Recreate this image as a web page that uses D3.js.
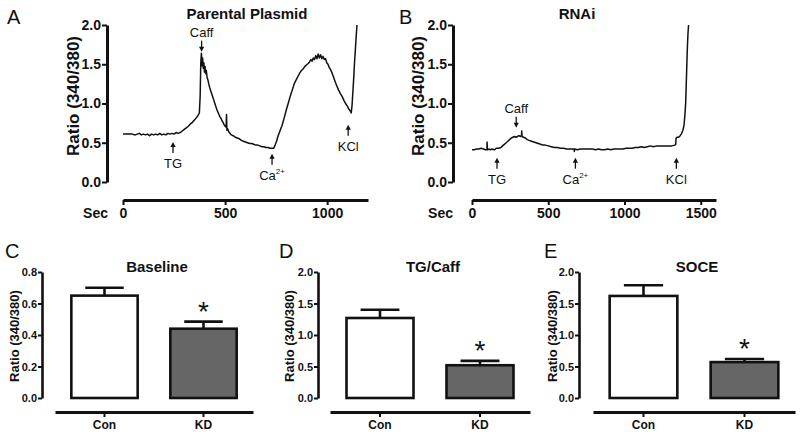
<!doctype html>
<html>
<head>
<meta charset="utf-8">
<script src="https://d3js.org/d3.v7.min.js"></script>
<style>
body { margin: 0; background: #fff; }
svg { font-family: "Liberation Sans", Arial, sans-serif; }
.trace { fill: none; stroke: #111; stroke-width: 1.5; stroke-linejoin: round; }
.axis path, .axis line { stroke: #111; }
.bar { stroke: #111; stroke-width: 2.6; }
.err { stroke: #111; stroke-width: 2.6; fill: none; }
</style>
</head>
<body>
<svg id="fig" width="800" height="435"></svg>
<script>
// ---- data ----
// panel A: parental plasmid trace, [seconds, ratio]
var traceA = [
  [0,0.61],[15,0.61],[30,0.61],[45,0.61],[60,0.60],[70,0.61],[80,0.62],[90,0.60],[100,0.61],[110,0.60],
  [120,0.61],[130,0.59],[140,0.61],[150,0.60],[160,0.61],[170,0.60],[180,0.62],[190,0.60],[200,0.61],[210,0.60],
  [220,0.62],[230,0.61],[240,0.62],[250,0.61],[260,0.63],[270,0.62],[280,0.63],[290,0.65],[300,0.67],[310,0.69],
  [320,0.71],[330,0.74],[340,0.76],[350,0.79],[360,0.82],[368,0.85],[374,0.88],[378,1.10],[381,1.52],[384,1.64],
  [387,1.48],[390,1.58],[393,1.45],[396,1.52],[399,1.40],[402,1.47],[405,1.38],[408,1.42],[412,1.33],[416,1.30],
  [420,1.25],[425,1.20],[430,1.16],[435,1.12],[440,1.08],[445,1.04],[450,1.00],[455,0.96],[460,0.92],[465,0.89],
  [470,0.86],[475,0.83],[480,0.81],[485,0.78],[490,0.76],[495,0.73],[500,0.71],[505,0.70],[507,0.86],[509,0.66],
  [512,0.68],[518,0.64],[524,0.62],[530,0.60],[540,0.59],[550,0.57],[560,0.56],[570,0.55],[580,0.53],[590,0.52],
  [600,0.51],[610,0.50],[620,0.49],[630,0.49],[640,0.48],[650,0.47],[660,0.47],[670,0.46],[680,0.45],[690,0.45],
  [700,0.44],[710,0.44],[720,0.43],[730,0.43],[738,0.43],[745,0.47],[752,0.52],[760,0.59],[770,0.66],[779,0.72],
  [790,0.82],[800,0.92],[809,1.00],[820,1.10],[830,1.18],[840,1.26],[850,1.31],[858,1.35],[866,1.39],[874,1.42],
  [882,1.44],[890,1.47],[898,1.49],[907,1.51],[914,1.53],[920,1.56],[926,1.54],[932,1.58],[938,1.56],[944,1.61],
  [950,1.57],[956,1.63],[962,1.58],[968,1.62],[974,1.57],[980,1.60],[986,1.56],[992,1.57],[998,1.52],[1004,1.50],
  [1010,1.46],[1017,1.43],[1024,1.39],[1032,1.33],[1040,1.27],[1048,1.22],[1056,1.17],[1064,1.13],[1073,1.09],[1082,1.04],
  [1090,1.00],[1098,0.97],[1106,0.93],[1112,0.91],[1118,0.88],[1122,0.98],[1126,1.15],[1130,1.32],[1134,1.52],[1138,1.68],
  [1142,1.85],[1146,2.0]
];
// panel B: RNAi trace, [seconds, ratio]
var traceB = [
  [0,0.41],[15,0.41],[30,0.42],[45,0.42],[60,0.43],[75,0.42],[90,0.41],[98,0.41],[99,0.51],[101,0.41],
  [110,0.42],[120,0.41],[130,0.42],[145,0.41],[160,0.43],[175,0.43],[190,0.44],[200,0.46],[212,0.48],[224,0.50],
  [235,0.52],[246,0.54],[258,0.56],[268,0.57],[278,0.58],[288,0.57],[298,0.58],[308,0.59],[318,0.58],[325,0.59],
  [326,0.65],[328,0.58],[338,0.57],[350,0.56],[362,0.54],[375,0.53],[390,0.52],[405,0.51],[420,0.50],[435,0.49],
  [450,0.48],[465,0.47],[480,0.47],[500,0.46],[520,0.45],[540,0.44],[560,0.44],[580,0.43],[600,0.43],[620,0.42],
  [640,0.42],[660,0.42],[670,0.42],[671,0.39],[673,0.42],[690,0.41],[710,0.42],[730,0.42],[750,0.42],[770,0.42],
  [790,0.42],[810,0.41],[830,0.42],[850,0.41],[870,0.41],[890,0.42],[910,0.41],[930,0.42],[950,0.42],[970,0.42],
  [990,0.42],[1010,0.43],[1030,0.43],[1050,0.43],[1070,0.44],[1090,0.44],[1110,0.45],[1130,0.44],[1150,0.45],[1170,0.46],
  [1190,0.45],[1210,0.46],[1230,0.46],[1250,0.46],[1270,0.46],[1290,0.46],[1310,0.46],[1330,0.47],[1336,0.48],[1338,0.56],
  [1345,0.57],[1355,0.57],[1365,0.59],[1375,0.62],[1383,0.66],[1390,0.72],[1396,0.85],[1401,1.00],[1405,1.25],[1408,1.45],
  [1412,1.70],[1416,1.88],[1420,2.0]
];
// arrow annotations: label, time, ratio at arrow tip, direction
var notesA = [
  {text: "TG", t: 245, r: 0.51, dir: "up"},
  {text: "Caff", t: 385, r: 1.66, dir: "down"},
  {text: "Ca", sup: "2+", t: 730, r: 0.36, dir: "up"},
  {text: "KCl", t: 1103, r: 0.73, dir: "up"}
];
var notesB = [
  {text: "TG", t: 164, r: 0.31, dir: "up"},
  {text: "Caff", t: 290, r: 0.69, dir: "down"},
  {text: "Ca", sup: "2+", t: 678, r: 0.31, dir: "up"},
  {text: "KCl", t: 1340, r: 0.31, dir: "up"}
];
var ratioTicks = [0, 0.5, 1.0, 1.5, 2.0];
var secTicksA = [0, 500, 1000];
var secTicksB = [0, 500, 1000, 1500];

// bar panels
var groups = ["Con", "KD"];
var baselineMean = [0.65, 0.44];
var baselineSem = [0.05, 0.045];
var tgCaffMean = [1.27, 0.52];
var tgCaffSem = [0.13, 0.07];
var soceMean = [1.62, 0.57];
var soceSem = [0.17, 0.05];
var baselineTicks = [0, 0.2, 0.4, 0.6, 0.8];
var bigTicks = [0, 0.5, 1.0, 1.5, 2.0];

var svg = d3.select("#fig");
var fmt = d3.format(".1f");
var ylabel = "Ratio (340/380)";

function tracePanel(o) {
  var g = svg.append("g");
  var x = d3.scaleLinear().domain([0, o.xmax]).range([o.x0, o.x1]);
  var y = d3.scaleLinear().domain([0, 2]).range([182, 25]);

  var ya = g.append("g").attr("class", "axis")
    .attr("transform", "translate(" + o.yx + ",0)")
    .call(d3.axisLeft(y).tickValues(ratioTicks).tickFormat(fmt).tickSize(5).tickPadding(1).tickSizeOuter(0));
  ya.select(".domain").attr("stroke-width", 3);
  ya.selectAll(".tick line").attr("stroke-width", 2);
  ya.selectAll("text").attr("font-size", 14).attr("font-weight", "bold")
    .attr("font-family", "Liberation Sans, Arial, sans-serif").attr("fill", "#111");

  var xa = g.append("g").attr("class", "axis")
    .attr("transform", "translate(0,200)")
    .call(d3.axisBottom(x).tickValues(o.ticks).tickFormat(d3.format("d")).tickSize(5).tickPadding(3).tickSizeOuter(0));
  xa.select(".domain").attr("stroke-width", 3);
  xa.selectAll(".tick line").attr("stroke-width", 2);
  xa.selectAll("text").attr("font-size", 14).attr("font-weight", "bold")
    .attr("font-family", "Liberation Sans, Arial, sans-serif").attr("fill", "#111");

  g.append("text").attr("x", o.secx).attr("y", 218).attr("text-anchor", "end")
    .attr("font-size", 14).attr("font-weight", "bold").attr("fill", "#111").text("Sec");

  g.append("path").datum(o.data).attr("class", "trace")
    .attr("d", d3.line().x(function(d) { return x(d[0]); }).y(function(d) { return y(d[1]); }));

  g.append("text").attr("transform", "translate(" + o.labx + ",96) rotate(-90)")
    .attr("text-anchor", "middle").attr("font-size", 17).attr("font-weight", "bold")
    .attr("fill", "#111").text(ylabel);

  g.append("text").attr("x", o.titlex).attr("y", 19).attr("text-anchor", "middle")
    .attr("font-size", 15).attr("font-weight", "bold").attr("fill", "#111").text(o.title);

  g.append("text").attr("x", o.letterx).attr("y", 24).attr("font-size", 20)
    .attr("fill", "#111").text(o.letter);

  o.notes.forEach(function(n) {
    var ax = x(n.t), tip = y(n.r);
    var s = n.dir === "up" ? 1 : -1;
    var tail = tip + s * 11;
    g.append("line").attr("x1", ax).attr("x2", ax).attr("y1", tip + s * 3).attr("y2", tail)
      .attr("stroke", "#111").attr("stroke-width", 1.3);
    g.append("path").attr("d", "M" + ax + "," + tip + "L" + (ax - 2.6) + "," + (tip + s * 5) + "L" + (ax + 2.6) + "," + (tip + s * 5) + "Z")
      .attr("fill", "#111");
    var ty = n.dir === "up" ? tail + 15 : tail - 4;
    var t = g.append("text").attr("x", ax).attr("y", ty).attr("text-anchor", "middle")
      .attr("font-size", 13).attr("fill", "#111").text(n.text);
    if (n.sup) t.append("tspan").attr("font-size", 8).attr("dy", -6).text(n.sup);
  });
}

function barPanel(o) {
  var g = svg.append("g");
  var y = d3.scaleLinear().domain([0, o.ymax]).range([398, 272]);
  var x = d3.scaleBand().domain(groups).range([o.x0, o.x1]).paddingInner(0.33).paddingOuter(0.165);

  var ya = g.append("g").attr("class", "axis")
    .attr("transform", "translate(" + o.yx + ",0)")
    .call(d3.axisLeft(y).tickValues(o.ticks).tickFormat(fmt).tickSize(4).tickPadding(1).tickSizeOuter(0));
  ya.select(".domain").attr("stroke-width", 2.6);
  ya.selectAll(".tick line").attr("stroke-width", 2);
  ya.selectAll("text").attr("font-size", 11).attr("font-weight", "bold")
    .attr("font-family", "Liberation Sans, Arial, sans-serif").attr("fill", "#111");

  var xa = g.append("g").attr("class", "axis")
    .attr("transform", "translate(0,412)")
    .call(d3.axisBottom(x).tickSize(5).tickPadding(3).tickSizeOuter(0));
  xa.select(".domain").attr("stroke-width", 3);
  xa.selectAll(".tick line").attr("stroke-width", 2);
  xa.selectAll("text").attr("font-size", 12).attr("font-weight", "bold")
    .attr("font-family", "Liberation Sans, Arial, sans-serif").attr("fill", "#111");

  var bw = x.bandwidth();
  groups.forEach(function(k, i) {
    var cx = x(k) + bw / 2;
    var top = y(o.mean[i] + o.sem[i]);
    g.append("line").attr("class", "err").attr("x1", cx).attr("x2", cx)
      .attr("y1", y(o.mean[i])).attr("y2", top);
    g.append("line").attr("class", "err").attr("x1", cx - bw * 0.29).attr("x2", cx + bw * 0.29)
      .attr("y1", top).attr("y2", top);
    g.append("rect").attr("class", "bar")
      .attr("x", x(k)).attr("y", y(o.mean[i]))
      .attr("width", bw).attr("height", y(0) - y(o.mean[i]))
      .attr("fill", i === 0 ? "#fff" : "#666");
    if (i === 1) {
      g.append("text").attr("x", cx).attr("y", top - 1).attr("text-anchor", "middle")
        .attr("font-size", 28).attr("fill", "#111").text("*");
    }
  });

  g.append("text").attr("transform", "translate(" + o.labx + ",336) rotate(-90)")
    .attr("text-anchor", "middle").attr("font-size", 13).attr("font-weight", "bold")
    .attr("fill", "#111").text(ylabel);

  g.append("text").attr("x", (o.x0 + o.x1) / 2 + 3).attr("y", 272).attr("text-anchor", "middle")
    .attr("font-size", 15).attr("font-weight", "bold").attr("fill", "#111").text(o.title);

  g.append("text").attr("x", o.letterx).attr("y", 258).attr("font-size", 20)
    .attr("fill", "#111").text(o.letter);
}

tracePanel({data: traceA, notes: notesA, ticks: secTicksA, xmax: 1200, x0: 123, x1: 368, yx: 107,
  secx: 108, labx: 79, title: "Parental Plasmid", titlex: 247, letter: "A", letterx: 7});
tracePanel({data: traceB, notes: notesB, ticks: secTicksB, xmax: 1600, x0: 472, x1: 716, yx: 453,
  secx: 453, labx: 424, title: "RNAi", titlex: 577, letter: "B", letterx: 399});

barPanel({mean: baselineMean, sem: baselineSem, ymax: 0.8, ticks: baselineTicks, x0: 55, x1: 253, yx: 42,
  labx: 19, title: "Baseline", letter: "C", letterx: 5});
barPanel({mean: tgCaffMean, sem: tgCaffSem, ymax: 2, ticks: bigTicks, x0: 330, x1: 530, yx: 318,
  labx: 294, title: "TG/Caff", letter: "D", letterx: 279});
barPanel({mean: soceMean, sem: soceSem, ymax: 2, ticks: bigTicks, x0: 593, x1: 795, yx: 579,
  labx: 557, title: "SOCE", letter: "E", letterx: 544});
</script>
</body>
</html>
